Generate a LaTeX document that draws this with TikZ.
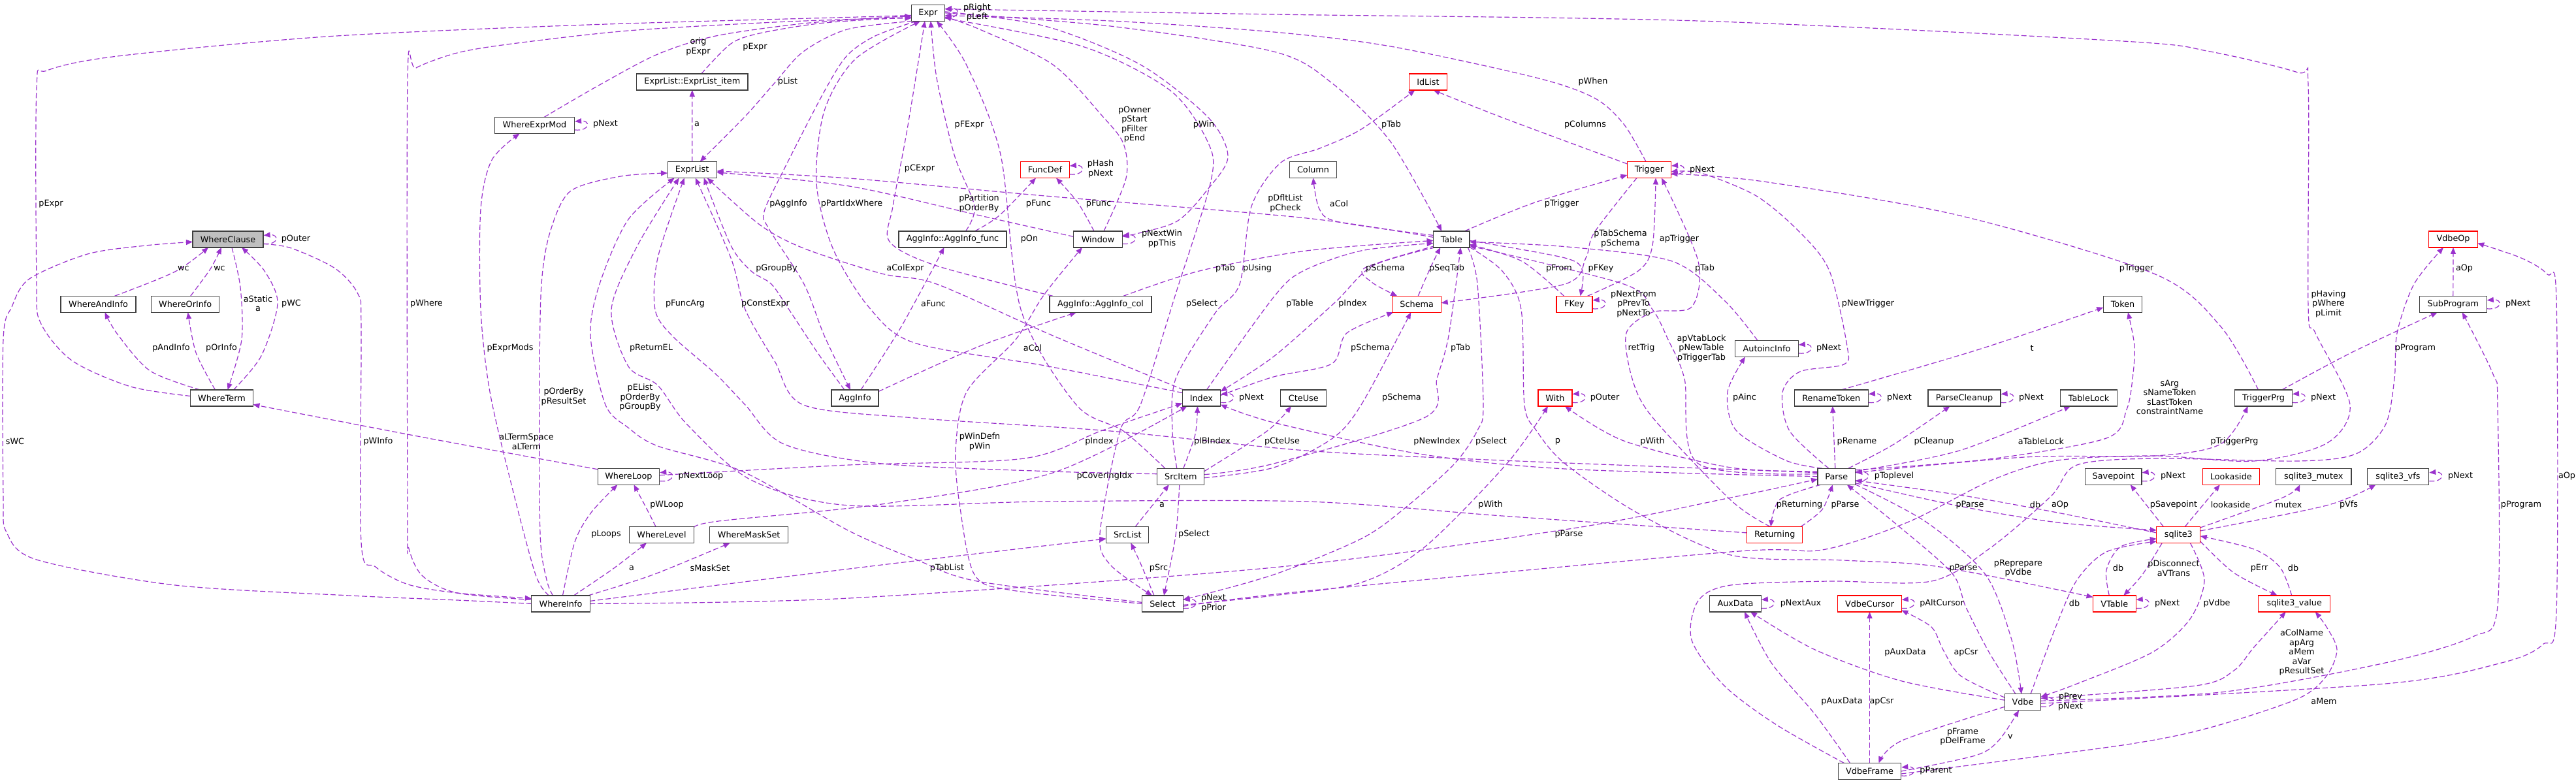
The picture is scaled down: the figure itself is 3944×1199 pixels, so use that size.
\documentclass[tikz,border=0pt]{standalone}
\usepackage{fontspec}
\newfontfamily\dvs{DejaVu Sans}
\usetikzlibrary{arrows.meta}
\newcommand\dgf{\dvs\fontsize{12.8}{14.5}\selectfont}
\definecolor{edgec}{HTML}{9A32CD}
\definecolor{boxc}{HTML}{404040}
\definecolor{rootfill}{HTML}{BFBFBF}
\definecolor{redc}{HTML}{FF0000}
\pgfdeclarelayer{bg}
\pgfsetlayers{bg,main}
\tikzset{
 cls/.style={draw=boxc, line width=1.2pt, fill=white, minimum height=25pt, inner sep=0pt, font=\dgf},
 rcls/.style={cls, draw=redc},
 e/.style={draw=edgec, line width=1.2pt, dash pattern=on 8pt off 4pt, -{Triangle[length=10pt,width=8pt]}},
 lab/.style={font=\dgf, align=center, inner sep=0pt}
}
\newcommand\sloop[1]{\draw[e] ([yshift=-7pt]#1.east) .. controls +(24pt,-2pt) and +(24pt,2pt) .. ([yshift=6pt]#1.east);}
\begin{document}
\begin{tikzpicture}[x=1pt,y=-1pt]
\useasboundingbox (0,0) rectangle (3944,1199);
% nodes
\node[cls,minimum width=51pt] (Expr) at (1421,19.8) {Expr};
\node[cls,minimum width=170.5pt] (ExprListItem) at (1059.8,125.4) {ExprList::ExprList\_item};
\node[rcls,minimum width=57.6pt] (IdList) at (2186.4,125.4) {IdList};
\node[cls,minimum width=122pt] (WhereExprMod) at (818.5,192) {WhereExprMod};
\node[cls,minimum width=75pt] (ExprList) at (1059.7,260) {ExprList};
\node[rcls,minimum width=74.5pt] (FuncDef) at (1600,260) {FuncDef};
\node[cls,minimum width=72pt] (Column) at (2010.5,260) {Column};
\node[rcls,minimum width=67pt] (Trigger) at (2525,260) {Trigger};
\node[cls,minimum width=108pt,fill=rootfill] (WhereClause) at (349,366.4) {WhereClause};
\node[cls,minimum width=165pt] (AggFunc) at (1458.5,366.4) {AggInfo::AggInfo\_func};
\node[cls,minimum width=74.5pt] (Window) at (1681,366.4) {Window};
\node[cls,minimum width=55.4pt] (Table) at (2222.3,366.4) {Table};
\node[rcls,minimum width=74.5pt] (VdbeOp) at (3756,366.4) {VdbeOp};
\node[cls,minimum width=115pt] (WhereAndInfo) at (150.5,465.8) {WhereAndInfo};
\node[cls,minimum width=104pt] (WhereOrInfo) at (283.7,465.8) {WhereOrInfo};
\node[cls,minimum width=156pt] (AggCol) at (1685,465.8) {AggInfo::AggInfo\_col};
\node[rcls,minimum width=75pt] (Schema) at (2169.2,465.8) {Schema};
\node[rcls,minimum width=55pt] (FKey) at (2410.5,465.8) {FKey};
\node[cls,minimum width=59.4pt] (Token) at (3250,465.8) {Token};
\node[cls,minimum width=102.7pt] (SubProgram) at (3755.8,465.8) {SubProgram};
\node[cls,minimum width=96.4pt] (AutoincInfo) at (2705,534) {AutoincInfo};
\node[cls,minimum width=96pt] (WhereTerm) at (339.5,609.5) {WhereTerm};
\node[cls,minimum width=72pt] (AggInfo) at (1309,609.5) {AggInfo};
\node[cls,minimum width=58.5pt] (Index) at (1839.4,609.5) {Index};
\node[cls,minimum width=70pt] (CteUse) at (1995.8,609.5) {CteUse};
\node[rcls,minimum width=52pt] (With) at (2381,609.5) {With};
\node[cls,minimum width=113pt] (RenameToken) at (2803.8,609.5) {RenameToken};
\node[cls,minimum width=111pt] (ParseCleanup) at (3007.5,609.5) {ParseCleanup};
\node[cls,minimum width=86.6pt] (TableLock) at (3198,609.5) {TableLock};
\node[cls,minimum width=87.5pt] (TriggerPrg) at (3465.6,609.5) {TriggerPrg};
\node[cls,minimum width=94.6pt] (WhereLoop) at (962.4,729.7) {WhereLoop};
\node[cls,minimum width=72pt] (SrcItem) at (1807.8,729.7) {SrcItem};
\node[cls,minimum width=57.6pt] (Parse) at (2811.8,729.7) {Parse};
\node[cls,minimum width=86.6pt] (Savepoint) at (3235.7,729.7) {Savepoint};
\node[rcls,minimum width=87pt] (Lookaside) at (3415.8,729.7) {Lookaside};
\node[cls,minimum width=115.6pt] (Mutex) at (3542.2,729.7) {sqlite3\_mutex};
\node[cls,minimum width=94.6pt] (Vfs) at (3671.4,729.7) {sqlite3\_vfs};
\node[cls,minimum width=98.7pt] (WhereLevel) at (1013,818.9) {WhereLevel};
\node[cls,minimum width=120pt] (WhereMaskSet) at (1146.7,818.9) {WhereMaskSet};
\node[cls,minimum width=65pt] (SrcList) at (1726.3,818.9) {SrcList};
\node[rcls,minimum width=85pt] (Returning) at (2717.2,818.9) {Returning};
\node[rcls,minimum width=67pt] (Sqlite) at (3335.3,818.9) {sqlite3};
\node[cls,minimum width=89.3pt] (WhereInfo) at (858.5,924.4) {WhereInfo};
\node[cls,minimum width=62.5pt] (Select) at (1780,924.4) {Select};
\node[cls,minimum width=78.5pt] (AuxData) at (2657,924.4) {AuxData};
\node[rcls,minimum width=97.3pt] (VdbeCursor) at (2862.5,924.4) {VdbeCursor};
\node[rcls,minimum width=65.6pt] (VTable) at (3237.3,924.4) {VTable};
\node[rcls,minimum width=110pt] (Value) at (3512.7,924.4) {sqlite3\_value};
\node[cls,minimum width=55pt] (Vdbe) at (3097,1075.2) {Vdbe};
\node[cls,minimum width=96.4pt] (VdbeFrame) at (2862.5,1181) {VdbeFrame};
% edges
\begin{pgfonlayer}{bg}
\fill[white] (0,0) rectangle (3944,1199);
\draw[e] plot[smooth] coordinates {([shift={(-48,-3)}]WhereTerm.center) (200,592) (110,552) (62,494) (56,430) (56,135) (72,108) (180,86) (500,56) (900,38) (1350,25) ([shift={(-25.5,3)}]Expr.center)};
\draw[e] plot[smooth] coordinates {([shift={(-44.7,-6)}]WhereInfo.center) (700,908) (647,882) (626,840) (624,790) (624,125) (637,104) (700,81) (784,67) (962,47) (1186,34) (1350,28) ([shift={(-25.5,7)}]Expr.center)};
\draw[e] plot[smooth] coordinates {([shift={(25,-12.5)}]WhereAndInfo.center) (268,416) ([shift={(-30,12.5)}]WhereClause.center)};
\draw[e] plot[smooth] coordinates {([shift={(8,-12.5)}]WhereOrInfo.center) (322,412) ([shift={(-10,12.5)}]WhereClause.center)};
\draw[e] plot[smooth] coordinates {([shift={(6,12.5)}]WhereClause.center) (368,440) (370,520) ([shift={(9,-12.5)}]WhereTerm.center)};
\draw[e] plot[smooth] coordinates {([shift={(18,-12.5)}]WhereTerm.center) (400,545) (425,465) (405,415) ([shift={(21,12.5)}]WhereClause.center)};
\draw[e] plot[smooth] coordinates {([shift={(-33,-12.5)}]WhereTerm.center) (230,568) (180,512) ([shift={(10,12.5)}]WhereAndInfo.center)};
\draw[e] plot[smooth] coordinates {([shift={(-10,-12.5)}]WhereTerm.center) (300,540) ([shift={(4,12.5)}]WhereOrInfo.center)};
\draw[e] plot[smooth] coordinates {([shift={(-44.7,0)}]WhereInfo.center) (700,919) (536,912) (268,896) (56,857) (10,815) (5,760) (5,520) (18,470) (45,427) (134,389) (223,376) ([shift={(-54,4)}]WhereClause.center)};
\draw[e] plot[smooth] coordinates {([shift={(54,7)}]WhereClause.center) (446,380) (513,411) (548,450) (553,500) (553,830) (575,868) (625,895) (700,908) ([shift={(-44.7,-8)}]WhereInfo.center)};
\draw[e] plot[smooth] coordinates {([shift={(14.5,-12.5)}]WhereExprMod.center) (918,130) (1007,83) (1096,55) (1230,36) (1350,27) ([shift={(-25.5,5)}]Expr.center)};
\draw[e] plot[smooth] coordinates {([shift={(14,-12.5)}]ExprListItem.center) (1119,67) (1163,51) (1253,36) (1350,29) ([shift={(-25.5,8)}]Expr.center)};
\draw[e] plot[smooth] coordinates {([shift={(0,-12.5)}]ExprList.center) ([shift={(0,12.5)}]ExprListItem.center)};
\draw[e] plot[smooth] coordinates {([shift={(-24,12.5)}]Expr.center) (1297,45) (1230,79) (1186,127) (1141,178) ([shift={(12,-12.5)}]ExprList.center)};
\draw[e] plot[smooth] coordinates {([shift={(-18,12.5)}]Expr.center) (1340,55) (1297,85) (1262,140) (1200,260) (1170,324) (1177,350) (1231,435) (1262,514) ([shift={(-7,-12.5)}]AggInfo.center)};
\draw[e] plot[smooth] coordinates {([shift={(-29.2,-8)}]Index.center) (1600,560) (1400,525) (1330,470) (1275,380) (1250,280) (1262,170) (1310,90) ([shift={(-12,12.5)}]Expr.center)};
\draw[e] plot[smooth] coordinates {([shift={(-27,-12.5)}]Index.center) (1612,514) (1434,435) (1350,419) (1230,380) (1163,344) ([shift={(23,12.5)}]ExprList.center)};
\draw[e] plot[smooth] coordinates {([shift={(-16,-12.5)}]AggInfo.center) (1253,542) (1208,474) (1181,435) (1150,415) (1119,376) ([shift={(18,12.5)}]ExprList.center)};
\draw[e] plot[smooth] coordinates {([shift={(-36,-4)}]SrcItem.center) (1612,722) (1350,710) (1200,680) (1141,620) (1096,573) (1029,514) (1003,474) (1007,395) ([shift={(-12,12.5)}]ExprList.center)};
\draw[e] plot[smooth] coordinates {([shift={(-28.8,-6)}]Parse.center) (2300,705) (2000,690) (1700,660) (1400,640) (1230,620) (1186,553) (1141,474) (1119,395) ([shift={(5,12.5)}]ExprList.center)};
\draw[e] plot[smooth] coordinates {([shift={(-18,-12.5)}]WhereInfo.center) (820,880) (784,746) (750,600) (736,474) (736,320) (753,245) ([shift={(-23,12.5)}]WhereExprMod.center)};
\draw[e] plot[smooth] coordinates {([shift={(-42.5,-3)}]Returning.center) (2300,790) (2000,768) (1600,768) (1300,774) (1150,735) (1052,650) (1007,590) (962,561) (936,474) (976,376) ([shift={(-20,12.5)}]ExprList.center)};
\draw[e] plot[smooth] coordinates {([shift={(-12,-12.5)}]WhereInfo.center) (837,888) (827,817) (826,580) (829,435) (842,356) (873,293) (950,270) ([shift={(-37.7,5)}]ExprList.center)};
\draw[e] plot[smooth] coordinates {([shift={(-31.3,-2)}]Select.center) (1496,890) (1403,857) (1300,813) (1137,722) (1007,683) (962,655) (927,620) (904,514) (918,435) (962,336) ([shift={(-27,12.5)}]ExprList.center)};
\draw[e] plot[smooth] coordinates {([shift={(-47.4,-11)}]WhereLoop.center) (650,670) ([shift={(48,10)}]WhereTerm.center)};
\draw[e] plot[smooth] coordinates {([shift={(-9,-12.5)}]WhereLevel.center) (988,775) ([shift={(8,12.5)}]WhereLoop.center)};
\draw[e] plot[smooth] coordinates {([shift={(3,-12.5)}]WhereInfo.center) (880,830) (905,785) ([shift={(-17,12.5)}]WhereLoop.center)};
\draw[e] plot[smooth] coordinates {([shift={(20,-12.5)}]WhereInfo.center) (940,870) ([shift={(-23,12.5)}]WhereLevel.center)};
\draw[e] plot[smooth] coordinates {([shift={(42,-12.5)}]WhereInfo.center) (1000,880) ([shift={(-29,12.5)}]WhereMaskSet.center)};
\draw[e] plot[smooth] coordinates {([shift={(20,-12.5)}]AggFunc.center) (1492,316) (1461,237) (1434,119) ([shift={(4,12.5)}]Expr.center)};
\draw[e] plot[smooth] coordinates {([shift={(34,-12.5)}]AggFunc.center) (1530,330) ([shift={(-14,12.5)}]FuncDef.center)};
\draw[e] plot[smooth] coordinates {([shift={(-6,-12.5)}]Window.center) (1650,310) ([shift={(17,12.5)}]FuncDef.center)};
\draw[e] plot[smooth] coordinates {([shift={(9,-12.5)}]Window.center) (1724,273) (1720,220) (1688,178) (1612,99) (1500,45) ([shift={(25.5,6)}]Expr.center)};
\draw[e] plot[smooth] coordinates {([shift={(25.5,-2)}]Expr.center) (1600,40) (1746,99) (1850,180) (1880,240) (1849,290) (1800,340) ([shift={(37.25,-4)}]Window.center)};
\draw[e] plot[smooth] coordinates {([shift={(-37.25,-4)}]Window.center) (1500,330) (1300,285) ([shift={(37.75,4)}]ExprList.center)};
\draw[e] plot[smooth] coordinates {([shift={(-27.7,-3)}]Table.center) (2000,334) (1600,300) (1300,273) ([shift={(37.75,2)}]ExprList.center)};
\draw[e] plot[smooth] coordinates {([shift={(-73,-12.5)}]AggCol.center) (1434,407) (1362,370) (1367,316) (1389,198) ([shift={(-5,12.5)}]Expr.center)};
\draw[e] plot[smooth] coordinates {([shift={(35,-12.5)}]AggCol.center) (1836,415) (2000,384) ([shift={(-27.7,2)}]Table.center)};
\draw[e] plot[smooth] coordinates {([shift={(9,-12.5)}]AggInfo.center) (1380,500) ([shift={(-13,12.5)}]AggFunc.center)};
\draw[e] plot[smooth] coordinates {([shift={(36,-10)}]AggInfo.center) (1500,530) ([shift={(-37,12.5)}]AggCol.center)};
\draw[e] plot[smooth] coordinates {([shift={(-24,-12.5)}]SrcItem.center) (1720,660) (1648,620) (1563,474) (1532,237) (1480,100) ([shift={(13,12.5)}]Expr.center)};
\draw[e] plot[smooth] coordinates {([shift={(25.5,8)}]Expr.center) (1657,71) (1791,138) (1849,217) (1854,277) (1800,450) (1746,620) (1715,659) (1684,817) (1700,865) ([shift={(-16,-12.5)}]Select.center)};
\draw[e] plot[smooth] coordinates {([shift={(-6,-12.5)}]SrcItem.center) (1795,660) (1800,580) (1860,480) (1898,435) (1916,316) (1961,249) (2021,227) (2084,198) ([shift={(-20,12.5)}]IdList.center)};
\draw[e] plot[smooth] coordinates {([shift={(8,-12.5)}]Index.center) (1950,455) (1995,415) (2084,384) ([shift={(-27.7,6)}]Table.center)};
\draw[e] plot[smooth] coordinates {([shift={(-25,12.5)}]Table.center) (2102,407) (2044,463) (1950,546) ([shift={(29.2,-10)}]Index.center)};
\draw[e] plot[smooth] coordinates {([shift={(-31.3,0)}]Select.center) (1550,904) (1492,880) (1470,778) (1463,691) (1480,600) (1555,520) (1598,452) ([shift={(-24,12.5)}]Window.center)};
\draw[e] plot[smooth] coordinates {([shift={(47.4,-2)}]WhereLoop.center) (1300,712) (1568,702) (1688,659) ([shift={(-29.2,8)}]Index.center)};
\draw[e] plot[smooth] coordinates {([shift={(4,-12.5)}]SrcItem.center) (1830,665) ([shift={(-6,12.5)}]Index.center)};
\draw[e] plot[smooth] coordinates {([shift={(36,-8)}]SrcItem.center) (1940,660) ([shift={(-19,12.5)}]CteUse.center)};
\draw[e] plot[smooth] coordinates {([shift={(49.35,-11)}]WhereLevel.center) (1100,798) (1350,772) (1612,724) ([shift={(-22,12.5)}]Index.center)};
\draw[e] plot[smooth] coordinates {([shift={(12,-12.5)}]SrcList.center) ([shift={(-18,12.5)}]SrcItem.center)};
\draw[e] plot[smooth] coordinates {([shift={(-2,12.5)}]SrcItem.center) (1800,820) ([shift={(2,-12.5)}]Select.center)};
\draw[e] plot[smooth] coordinates {([shift={(44.7,-4)}]WhereInfo.center) (1350,865) ([shift={(-32.5,6)}]SrcList.center)};
\draw[e] plot[smooth] coordinates {([shift={(-13,-12.5)}]Select.center) (1745,860) ([shift={(5,12.5)}]SrcList.center)};
\draw[e] plot[smooth] coordinates {([shift={(25.5,0)}]Expr.center) (1700,40) (1950,79) (2039,127) (2129,217) ([shift={(-15,-12.5)}]Table.center)};
\draw[e] plot[smooth] coordinates {([shift={(-5,-12.5)}]Trigger.center) (2486,190) (2441,150) (2352,119) (2129,71) (1950,49) (1700,32) ([shift={(25.5,4)}]Expr.center)};
\draw[e] plot[smooth] coordinates {([shift={(-33.5,-9)}]Trigger.center) (2300,180) ([shift={(8,12.5)}]IdList.center)};
\draw[e] plot[smooth] coordinates {([shift={(-27.7,-6)}]Table.center) (2050,340) (2020,320) ([shift={(0,12.5)}]Column.center)};
\draw[e] plot[smooth] coordinates {([shift={(20,-12.5)}]Table.center) (2350,310) ([shift={(-33.5,8)}]Trigger.center)};
\draw[e] plot[smooth] coordinates {([shift={(-19,12.5)}]Trigger.center) (2441,356) (2428,395) (2396,435) ([shift={(37.5,-2)}]Schema.center)};
\draw[e] plot[smooth] coordinates {([shift={(20,-12.5)}]FKey.center) (2508,415) (2530,376) ([shift={(10,12.5)}]Trigger.center)};
\draw[e] plot[smooth] coordinates {([shift={(-25,10)}]Table.center) (2090,410) (2100,432) ([shift={(-30,-12.5)}]Schema.center)};
\draw[e] plot[smooth] coordinates {([shift={(2,-12.5)}]Schema.center) (2190,410) ([shift={(-17,12.5)}]Table.center)};
\draw[e] plot[smooth] coordinates {([shift={(-16,-12.5)}]FKey.center) (2330,400) ([shift={(27.7,8)}]Table.center)};
\draw[e] plot[smooth] coordinates {([shift={(27.7,2)}]Table.center) (2396,395) (2423,415) ([shift={(9,-12.5)}]FKey.center)};
\draw[e] plot[smooth] coordinates {([shift={(-14,-12.5)}]AutoincInfo.center) (2640,460) (2560,400) (2400,378) ([shift={(27.7,4)}]Table.center)};
\draw[e] plot[smooth] coordinates {([shift={(29.2,-4)}]Index.center) (1950,577) (2039,557) (2062,510) ([shift={(-36,12.5)}]Schema.center)};
\draw[e] plot[smooth] coordinates {([shift={(36,-3)}]SrcItem.center) (1950,710) (2182,639) (2200,580) (2218,514) ([shift={(14,12.5)}]Table.center)};
\draw[e] plot[smooth] coordinates {([shift={(-7,-12.5)}]Returning.center) (2650,766) (2530,639) (2499,580) (2490,510) (2530,478) (2590,470) (2600,400) ([shift={(19,12.5)}]Trigger.center)};
\draw[e] plot[smooth] coordinates {([shift={(-28.8,-4)}]Parse.center) (2600,710) (2579,580) (2553,518) (2530,474) (2486,435) ([shift={(27.7,10)}]Table.center)};
\draw[e] plot[smooth] coordinates {([shift={(36,2)}]SrcItem.center) (1950,716) (2039,672) (2084,620) ([shift={(-9,12.5)}]Schema.center)};
\draw[e] plot[smooth] coordinates {([shift={(-28.8,0)}]Parse.center) (2396,718) (2173,695) (1950,647) ([shift={(29.2,10)}]Index.center)};
\draw[e] plot[smooth] coordinates {([shift={(25,12.5)}]Table.center) (2262,435) (2271,620) (2262,659) (2227,710) (2151,778) (2084,825) (1950,880) ([shift={(31.3,-6)}]Select.center)};
\draw[e] plot[smooth] coordinates {([shift={(27.7,12)}]Table.center) (2300,415) (2329,474) (2334,620) (2352,659) (2396,710) (2508,786) (2650,850) (2823,858) (2970,868) ([shift={(-32.8,-10)}]VTable.center)};
\draw[e] plot[smooth] coordinates {([shift={(-28.8,-8)}]Parse.center) (2650,716) (2486,675) ([shift={(15,12.5)}]With.center)};
\draw[e] plot[smooth] coordinates {([shift={(31.3,2)}]Select.center) (1950,912) (2084,892) (2182,837) (2307,710) ([shift={(-11,12.5)}]With.center)};
\draw[e] plot[smooth] coordinates {([shift={(44.7,0)}]WhereInfo.center) (1300,916) (1950,869) (2402,810) (2650,762) ([shift={(-28.8,4)}]Parse.center)};
\draw[e] plot[smooth] coordinates {([shift={(40,-12.5)}]Returning.center) (2790,780) ([shift={(-6,12.5)}]Parse.center)};
\draw[e] plot[smooth] coordinates {([shift={(-24,12.5)}]Parse.center) (2725,765) ([shift={(-6,-12.5)}]Returning.center)};
\draw[e] plot[smooth] coordinates {([shift={(-22,-12.5)}]Parse.center) (2734,705) (2658,659) (2645,600) ([shift={(-33,12.5)}]AutoincInfo.center)};
\draw[e] plot[smooth] coordinates {([shift={(-12,-12.5)}]Parse.center) (2740,660) (2729,601) (2756,569) (2823,558) (2828,530) (2801,415) (2756,356) (2689,300) (2604,265) ([shift={(33.5,3)}]Trigger.center)};
\draw[e] plot[smooth] coordinates {([shift={(-2,-12.5)}]Parse.center) ([shift={(2,12.5)}]RenameToken.center)};
\draw[e] plot[smooth] coordinates {([shift={(18,-12.5)}]Parse.center) (2900,680) ([shift={(-22,12.5)}]ParseCleanup.center)};
\draw[e] plot[smooth] coordinates {([shift={(28.8,-8)}]Parse.center) (3000,690) ([shift={(-28,12.5)}]TableLock.center)};
\draw[e] plot[smooth] coordinates {([shift={(15,-12.5)}]RenameToken.center) (3030,535) ([shift={(-29.7,5)}]Token.center)};
\draw[e] plot[smooth] coordinates {([shift={(28.8,-10)}]Parse.center) (3046,703) (3225,671) (3256,627) (3265,580) (3268,530) ([shift={(8,12.5)}]Token.center)};
\draw[e] plot[smooth] coordinates {([shift={(-8,-12.5)}]TriggerPrg.center) (3400,500) (3300,420) (3000,330) (2700,278) ([shift={(33.5,6)}]Trigger.center)};
\draw[e] plot[smooth] coordinates {([shift={(28.8,-6)}]Parse.center) (3100,700) (3300,698) (3400,680) ([shift={(-24,12.5)}]TriggerPrg.center)};
\draw[e] plot[smooth] coordinates {([shift={(28,-12.5)}]TriggerPrg.center) (3600,540) ([shift={(-24,12.5)}]SubProgram.center)};
\draw[e] plot[smooth] coordinates {([shift={(0,-12.5)}]SubProgram.center) ([shift={(0,12.5)}]VdbeOp.center)};
\draw[e] plot[smooth] coordinates {([shift={(27.5,2)}]Vdbe.center) (3652,1047) (3830,1015) (3893,987) (3914,936) (3914,460) (3900,420) (3860,395) ([shift={(37.25,6)}]VdbeOp.center)};
\draw[e] plot[smooth] coordinates {([shift={(27.5,-2)}]Vdbe.center) (3400,1060) (3652,1015) (3786,975) (3824,928) (3824,620) (3817,573) ([shift={(14,12.5)}]SubProgram.center)};
\draw[e] plot[smooth] coordinates {([shift={(31.3,4)}]Select.center) (2000,905) (2650,845) (2790,842) (2920,800) (3050,735) (3150,705) (3300,698) (3451,706) (3562,679) (3598,620) (3545,510) (3534,470) (3534,130) (3518,111) (3384,79) (3250,63) (2600,32) (1950,22) ([shift={(25.5,-6)}]Expr.center)};
\draw[e] plot[smooth] coordinates {([shift={(-11,-12.5)}]Vdbe.center) (3046,1000) (3010,930) (2988,877) (2900,800) ([shift={(16,12.5)}]Parse.center)};
\draw[e] plot[smooth] coordinates {([shift={(-33.5,-3)}]Sqlite.center) (3150,785) (3000,758) ([shift={(28.8,6)}]Parse.center)};
\draw[e] plot[smooth] coordinates {([shift={(28.8,10)}]Parse.center) (3000,775) (3150,800) ([shift={(-33.5,-7)}]Sqlite.center)};
\draw[e] plot[smooth] coordinates {([shift={(28.8,12)}]Parse.center) (2950,800) (3040,880) (3080,980) ([shift={(-2,-12.5)}]Vdbe.center)};
\draw[e] plot[smooth] coordinates {([shift={(-8,-12.5)}]VTable.center) (3225,873) (3247,837) ([shift={(-33.5,6)}]Sqlite.center)};
\draw[e] plot[smooth] coordinates {([shift={(-25,12.5)}]Sqlite.center) (3280,880) ([shift={(14,-12.5)}]VTable.center)};
\draw[e] plot[smooth] coordinates {([shift={(12,-12.5)}]Vdbe.center) (3149,956) (3180,888) (3225,845) ([shift={(-33.5,10)}]Sqlite.center)};
\draw[e] plot[smooth] coordinates {([shift={(18,12.5)}]Sqlite.center) (3375,888) (3353,948) (3295,999) (3180,1047) ([shift={(27.5,-8)}]Vdbe.center)};
\draw[e] plot[smooth] coordinates {([shift={(-27.5,-3)}]Vdbe.center) (2912,1043) (2779,995) ([shift={(23,12.5)}]AuxData.center)};
\draw[e] plot[smooth] coordinates {([shift={(-27.5,-7)}]Vdbe.center) (3002,1035) (2975,995) (2957,960) ([shift={(48.7,10)}]VdbeCursor.center)};
\draw[e] plot[smooth] coordinates {([shift={(-30,-12.5)}]VdbeFrame.center) (2779,1094) (2712,1015) ([shift={(14,12.5)}]AuxData.center)};
\draw[e] plot[smooth] coordinates {([shift={(0,-12.5)}]VdbeFrame.center) ([shift={(0,12.5)}]VdbeCursor.center)};
\draw[e] plot[smooth] coordinates {([shift={(-27.5,7)}]Vdbe.center) (2912,1134) ([shift={(14,-12.5)}]VdbeFrame.center)};
\draw[e] plot[smooth] coordinates {([shift={(48.2,0)}]VdbeFrame.center) (3024,1157) (3060,1134) ([shift={(-6,12.5)}]Vdbe.center)};
\draw[e] plot[smooth] coordinates {([shift={(27.5,-6)}]Vdbe.center) (3362,1050) (3420,1027) (3451,991) ([shift={(-13,12.5)}]Value.center)};
\draw[e] plot[smooth] coordinates {([shift={(48.2,4)}]VdbeFrame.center) (3250,1141) (3384,1114) (3518,1070) (3562,1035) (3578,995) (3562,960) ([shift={(32,12.5)}]Value.center)};
\draw[e] plot[smooth] coordinates {([shift={(33.5,10)}]Sqlite.center) (3420,877) ([shift={(-26,-12.5)}]Value.center)};
\draw[e] plot[smooth] coordinates {([shift={(-4,-12.5)}]Value.center) (3491,869) (3451,841) ([shift={(33.5,2)}]Sqlite.center)};
\draw[e] plot[smooth] coordinates {([shift={(-23,-12.5)}]Sqlite.center) ([shift={(26,12.5)}]Savepoint.center)};
\draw[e] plot[smooth] coordinates {([shift={(10,-12.5)}]Sqlite.center) ([shift={(-17,12.5)}]Lookaside.center)};
\draw[e] plot[smooth] coordinates {([shift={(33.5,-11)}]Sqlite.center) (3495,762) ([shift={(-21,12.5)}]Mutex.center)};
\draw[e] plot[smooth] coordinates {([shift={(33.5,-6)}]Sqlite.center) (3562,774) ([shift={(-34,12.5)}]Vfs.center)};
\draw[e] plot[smooth] coordinates {([shift={(-39,-12.5)}]VdbeFrame.center) (2720,1110) (2640,1050) (2590,980) (2600,920) (2650,896) (2800,890) (2957,890) (3046,840) (3140,760) (3180,712) (3300,702) (3518,706) (3607,695) (3652,651) (3666,580) (3670,510) (3696,435) ([shift={(-15,12.5)}]VdbeOp.center)};
% self loops
\sloop{WhereClause}\sloop{WhereExprMod}\sloop{Expr}\sloop{FuncDef}\sloop{Window}
\sloop{Trigger}\sloop{FKey}\sloop{Index}\sloop{Select}\sloop{WhereLoop}\sloop{With}
\sloop{RenameToken}\sloop{ParseCleanup}\sloop{TriggerPrg}\sloop{SubProgram}\sloop{Savepoint}
\sloop{Vfs}\sloop{Parse}\sloop{VTable}\sloop{AuxData}\sloop{VdbeCursor}\sloop{Vdbe}
\sloop{VdbeFrame}\sloop{AutoincInfo}
\end{pgfonlayer}
% labels
\node[lab] (l1) at (78,312) {pExpr};
\node[lab] (l2) at (453,366) {pOuter};
\node[lab] (l3) at (281,411) {wc};
\node[lab] (l4) at (336,411) {wc};
\node[lab] (l5) at (395,464.5) {aStatic\\a};
\node[lab] (l6) at (446,465) {pWC};
\node[lab] (l7) at (262,533) {pAndInfo};
\node[lab] (l8) at (339,533) {pOrInfo};
\node[lab] (l9) at (653,465) {pWhere};
\node[lab] (l10) at (23,676) {sWC};
\node[lab] (l11) at (579,676) {pWInfo};
\node[lab] (l12) at (1069,71.5) {orig\\pExpr};
\node[lab] (l13) at (1156,72) {pExpr};
\node[lab] (l14) at (1206,125) {pList};
\node[lab] (l15) at (927,190) {pNext};
\node[lab] (l16) at (1067,190) {a};
\node[lab] (l17) at (1207,312) {pAggInfo};
\node[lab] (l18) at (1304,312) {pPartIdxWhere};
\node[lab] (l19) at (1189,411) {pGroupBy};
\node[lab] (l20) at (1049,465) {pFuncArg};
\node[lab] (l21) at (1172,465) {pConstExpr};
\node[lab] (l22) at (781,533) {pExprMods};
\node[lab] (l23) at (997,533) {pReturnEL};
\node[lab] (l24) at (863,607.5) {pOrderBy\\pResultSet};
\node[lab] (l25) at (980,608.5) {pEList\\pOrderBy\\pGroupBy};
\node[lab] (l26) at (806,676.5) {aLTermSpace\\aLTerm};
\node[lab] (l27) at (1073,729) {pNextLoop};
\node[lab] (l28) at (1021,773) {pWLoop};
\node[lab] (l29) at (928,818) {pLoops};
\node[lab] (l30) at (967,870) {a};
\node[lab] (l31) at (1087,870) {sMaskSet};
\node[lab] (l32) at (1496,19) {pRight\\pLeft};
\node[lab] (l33) at (1484,191) {pFExpr};
\node[lab] (l34) at (1737,190.5) {pOwner\\pStart\\pFilter\\pEnd};
\node[lab] (l35) at (1843,191) {pWin};
\node[lab] (l36) at (1408,258) {pCExpr};
\node[lab] (l37) at (1685,258.5) {pHash\\pNext};
\node[lab] (l38) at (1499,311.5) {pPartition\\pOrderBy};
\node[lab] (l39) at (1590,312) {pFunc};
\node[lab] (l40) at (1682,312) {pFunc};
\node[lab] (l41) at (1968,311.5) {pDfltList\\pCheck};
\node[lab] (l42) at (1576,366) {pOn};
\node[lab] (l43) at (1779,365.5) {pNextWin\\ppThis};
\node[lab] (l44) at (1386,411) {aColExpr};
\node[lab] (l45) at (1876,411) {pTab};
\node[lab] (l46) at (1925,411) {pUsing};
\node[lab] (l47) at (1429,465) {aFunc};
\node[lab] (l48) at (1840,465) {pSelect};
\node[lab] (l49) at (1581,533) {aCol};
\node[lab] (l50) at (1916,609) {pNext};
\node[lab] (l51) at (1500,676.5) {pWinDefn\\pWin};
\node[lab] (l52) at (1683,676) {pIndex};
\node[lab] (l53) at (1856,676) {pIBIndex};
\node[lab] (l54) at (1963,676) {pCteUse};
\node[lab] (l55) at (1691,729) {pCoveringIdx};
\node[lab] (l56) at (1779,773) {a};
\node[lab] (l57) at (1828,818) {pSelect};
\node[lab] (l58) at (1450,870) {pTabList};
\node[lab] (l59) at (1774,870) {pSrc};
\node[lab] (l60) at (1858,923.5) {pNext\\pPrior};
\node[lab] (l61) at (2130,191) {pTab};
\node[lab] (l62) at (2439,125) {pWhen};
\node[lab] (l63) at (2427,191) {pColumns};
\node[lab] (l64) at (2606,260) {pNext};
\node[lab] (l65) at (2050,312) {aCol};
\node[lab] (l66) at (2391,312) {pTrigger};
\node[lab] (l67) at (2481,365.5) {pTabSchema\\pSchema};
\node[lab] (l68) at (2571,366) {apTrigger};
\node[lab] (l69) at (2121,411) {pSchema};
\node[lab] (l70) at (2215,411) {pSeqTab};
\node[lab] (l71) at (2387,411) {pFrom};
\node[lab] (l72) at (2451,411) {pFKey};
\node[lab] (l73) at (2610,411) {pTab};
\node[lab] (l74) at (1990,465) {pTable};
\node[lab] (l75) at (2071,465) {pIndex};
\node[lab] (l76) at (2501,465.5) {pNextFrom\\pPrevTo\\pNextTo};
\node[lab] (l77) at (2098,533) {pSchema};
\node[lab] (l78) at (2236,533) {pTab};
\node[lab] (l79) at (2513,533) {retTrig};
\node[lab] (l80) at (2605,533) {apVtabLock\\pNewTable\\pTriggerTab};
\node[lab] (l81) at (2146,609) {pSchema};
\node[lab] (l82) at (2457,609) {pOuter};
\node[lab] (l83) at (2200,676) {pNewIndex};
\node[lab] (l84) at (2283,676) {pSelect};
\node[lab] (l85) at (2385,676) {p};
\node[lab] (l86) at (2530,676) {pWith};
\node[lab] (l87) at (2282,773) {pWith};
\node[lab] (l88) at (2402,818) {pParse};
\node[lab] (l89) at (2671,609) {pAinc};
\node[lab] (l90) at (2800,533) {pNext};
\node[lab] (l91) at (2860,465) {pNewTrigger};
\node[lab] (l92) at (3111,533) {t};
\node[lab] (l93) at (3271,411) {pTrigger};
\node[lab] (l94) at (2908,609) {pNext};
\node[lab] (l95) at (3110,609) {pNext};
\node[lab] (l96) at (2843,676) {pRename};
\node[lab] (l97) at (2961,676) {pCleanup};
\node[lab] (l98) at (3125,676) {aTableLock};
\node[lab] (l99) at (2900,729) {pToplevel};
\node[lab] (l100) at (2755,773) {pReturning};
\node[lab] (l101) at (2825,773) {pParse};
\node[lab] (l102) at (3016,773) {pParse};
\node[lab] (l103) at (3116,773) {db};
\node[lab] (l104) at (3154,773) {aOp};
\node[lab] (l105) at (3090,870) {pReprepare\\pVdbe};
\node[lab] (l106) at (3006,870) {pParse};
\node[lab] (l107) at (3243,870) {db};
\node[lab] (l108) at (3328,870) {pDisconnect\\aVTrans};
\node[lab] (l109) at (3318,924) {pNext};
\node[lab] (l110) at (2757,924) {pNextAux};
\node[lab] (l111) at (2973,924) {pAltCursor};
\node[lab] (l112) at (3176,924) {db};
\node[lab] (l113) at (3394,924) {pVdbe};
\node[lab] (l114) at (2917,999) {pAuxData};
\node[lab] (l115) at (3010,999) {apCsr};
\node[lab] (l116) at (2820,1074) {pAuxData};
\node[lab] (l117) at (2881,1074) {apCsr};
\node[lab] (l118) at (3170,1074.5) {pPrev\\pNext};
\node[lab] (l119) at (3005,1128) {pFrame\\pDelFrame};
\node[lab] (l120) at (3078,1128) {v};
\node[lab] (l121) at (2964,1180) {pParent};
\node[lab] (l122) at (3322,608.5) {sArg\\sNameToken\\sLastToken\\constraintName};
\node[lab] (l123) at (3557,609) {pNext};
\node[lab] (l124) at (3421,676) {pTriggerPrg};
\node[lab] (l125) at (3327,729) {pNext};
\node[lab] (l126) at (3767,729) {pNext};
\node[lab] (l127) at (3930,729) {aOp};
\node[lab] (l128) at (3328,773) {pSavepoint};
\node[lab] (l129) at (3415,773) {lookaside};
\node[lab] (l130) at (3504,773) {mutex};
\node[lab] (l131) at (3596,773) {pVfs};
\node[lab] (l132) at (3860,773) {pProgram};
\node[lab] (l133) at (3459,870) {pErr};
\node[lab] (l134) at (3511,870) {db};
\node[lab] (l135) at (3524,999) {aColName\\apArg\\aMem\\aVar\\pResultSet};
\node[lab] (l136) at (3558,1074) {aMem};
\node[lab] (l137) at (3565,465) {pHaving\\pWhere\\pLimit};
\node[lab] (l138) at (3773,411) {aOp};
\node[lab] (l139) at (3855,465) {pNext};
\node[lab] (l140) at (3698,533) {pProgram};
\end{tikzpicture}
\end{document}
